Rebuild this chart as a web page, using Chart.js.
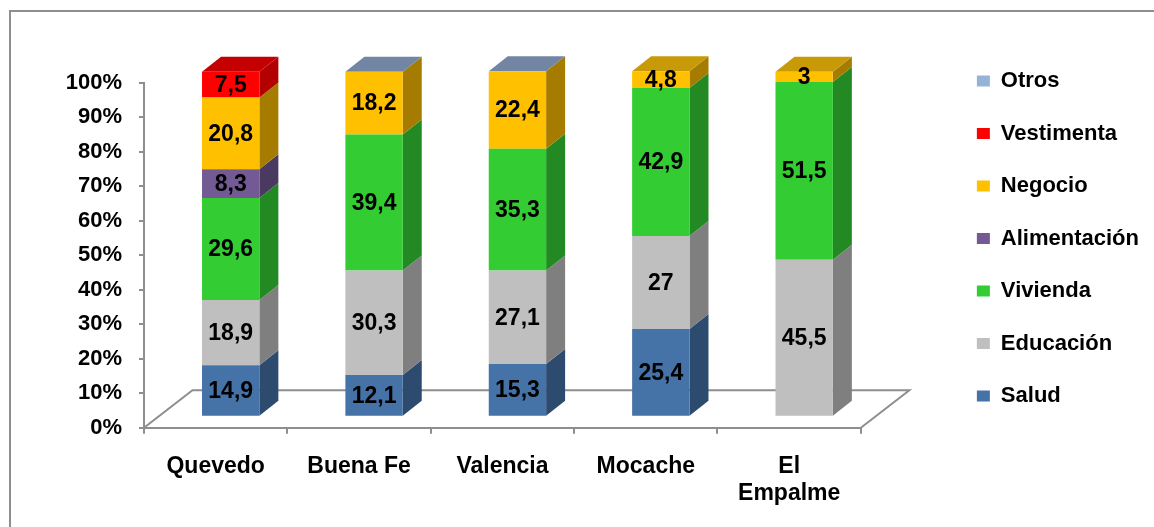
<!DOCTYPE html>
<html lang="es">
<head>
<meta charset="utf-8">
<title>Destino del crédito por cantón</title>
<script src="https://cdn.jsdelivr.net/npm/chart.js@4.4.1/dist/chart.umd.min.js"></script>
<style>
  html, body { margin: 0; padding: 0; background: #ffffff; }
  canvas { display: block; }
</style>
</head>
<body>
<canvas id="chart" width="1154" height="527"></canvas>
<script>
// Categories and series (percent of each canton)
const cantones = ['Quevedo', 'Buena Fe', 'Valencia', 'Mocache', ['El', 'Empalme']];
const salud        = [14.9, 12.1, 15.3, 25.4, null];
const educacion    = [18.9, 30.3, 27.1, 27,   45.5];
const vivienda     = [29.6, 39.4, 35.3, 42.9, 51.5];
const alimentacion = [8.3,  null, null, null, null];
const negocio      = [20.8, 18.2, 22.4, 4.8,  3];
const vestimenta   = [7.5,  null, null, null, null];
const otros        = [null, 0,    0,    null, null];
const tickValues   = [0, 10, 20, 30, 40, 50, 60, 70, 80, 90, 100];

const FONT = "'Liberation Sans', Arial, sans-serif";
const AXIS_GRAY = '#8e8e8e';

// 3D look: bars stand a little behind the front edge of the floor
const SHIFT = { dx: 15, dy: -11 };     // front face of the columns
const DEPTH = { dx: 19, dy: -15 };     // thickness of each column
const FLOOR = { dx: 48.5, dy: -37.5 }; // depth of the floor plate

const formatValue = v => String(v).replace('.', ',');

function series(label, data, front, side, top) {
  return {
    label, data,
    backgroundColor: front,
    borderWidth: 0,
    sideColor: side,
    topColor: top,
    xAxisID: 'x',
    yAxisID: 'y',
    clip: false
  };
}

const prismPlugin = {
  id: 'prism',
  beforeDraw(chart) {
    const { ctx } = chart;
    ctx.save();
    ctx.strokeStyle = AXIS_GRAY;
    ctx.lineWidth = 2;
    ctx.strokeRect(10, 11, chart.width + 20, chart.height + 20);
    ctx.restore();
  },
  beforeDatasetsDraw(chart) {
    const { ctx, chartArea: a } = chart;
    // floor outline (the front edge is the category axis line)
    ctx.save();
    ctx.strokeStyle = AXIS_GRAY;
    ctx.lineWidth = 2;
    ctx.beginPath();
    ctx.moveTo(a.left, a.bottom);
    ctx.lineTo(a.left + FLOOR.dx, a.bottom + FLOOR.dy);
    ctx.lineTo(a.right + FLOOR.dx, a.bottom + FLOOR.dy);
    ctx.lineTo(a.right, a.bottom);
    ctx.stroke();
    ctx.restore();

    // columns are drawn in the shifted plane
    ctx.save();
    ctx.translate(SHIFT.dx, SHIFT.dy);

    const datasets = chart.data.datasets;
    const n = chart.data.labels.length;
    for (let j = 0; j < n; j++) {
      let topIdx = -1;
      datasets.forEach((ds, i) => {
        const v = ds.data[j];
        if (v !== null && v !== undefined) topIdx = i;
      });
      datasets.forEach((ds, i) => {
        const v = ds.data[j];
        if (v === null || v === undefined) return;
        const bar = chart.getDatasetMeta(i).data[j];
        const { x, y, base, width } = bar.getProps(['x', 'y', 'base', 'width'], true);
        const l = x - width / 2, r = x + width / 2;
        // right side face
        ctx.fillStyle = ds.sideColor;
        ctx.beginPath();
        ctx.moveTo(r, base);
        ctx.lineTo(r, y);
        ctx.lineTo(r + DEPTH.dx, y + DEPTH.dy);
        ctx.lineTo(r + DEPTH.dx, base + DEPTH.dy);
        ctx.closePath();
        ctx.fill();
        // top face of the stack
        if (i === topIdx) {
          ctx.fillStyle = ds.topColor;
          ctx.beginPath();
          ctx.moveTo(l, y);
          ctx.lineTo(l + DEPTH.dx, y + DEPTH.dy);
          ctx.lineTo(r + DEPTH.dx, y + DEPTH.dy);
          ctx.lineTo(r, y);
          ctx.closePath();
          ctx.fill();
        }
      });
    }
  },
  afterDatasetsDraw(chart) {
    const { ctx } = chart;
    ctx.font = `bold 23px ${FONT}`;
    ctx.fillStyle = '#000000';
    ctx.textAlign = 'center';
    ctx.textBaseline = 'middle';
    chart.data.datasets.forEach((ds, i) => {
      chart.getDatasetMeta(i).data.forEach((bar, j) => {
        const v = ds.data[j];
        if (v === null || v === undefined || v === 0) return;
        const { x, y, base } = bar.getProps(['x', 'y', 'base'], true);
        ctx.fillText(formatValue(v), x, (y + base) / 2 + 1);
      });
    });
    ctx.restore(); // leave the shifted plane
  }
};

new Chart(document.getElementById('chart'), {
  type: 'bar',
  data: {
    labels: cantones,
    datasets: [
      series('Salud',        salud,        '#4572a7', '#2d4a6f', '#3a5f8c'),
      series('Educación',    educacion,    '#bfbfbf', '#7f7f7f', '#a6a6a6'),
      series('Vivienda',     vivienda,     '#33cc33', '#238a23', '#2aa82a'),
      series('Alimentación', alimentacion, '#735a94', '#4a3a5f', '#5e4a7a'),
      series('Negocio',      negocio,      '#ffc000', '#a67c00', '#c99a08'),
      series('Vestimenta',   vestimenta,   '#ff0000', '#b30000', '#c40000'),
      series('Otros',        otros,        '#95b3d7', '#6f88aa', '#7286a3')
    ]
  },
  options: {
    responsive: false,
    animation: false,
    events: [],
    devicePixelRatio: 1,
    datasets: { bar: { barPercentage: 0.4, categoryPercentage: 1 } },
    layout: { padding: { top: 39.5, right: 5, bottom: 0, left: 0 } },
    plugins: {
      tooltip: { enabled: false },
      title: { display: false },
      legend: {
        position: 'right',
        align: 'start',
        reverse: true,
        maxWidth: 300,
        labels: {
          boxWidth: 13,
          boxHeight: 11,
          padding: 30.5,
          color: '#000000',
          font: { family: FONT, size: 22, weight: 'bold' }
        }
      }
    },
    scales: {
      x: {
        stacked: true,
        position: 'bottom',
        grid: { display: true, drawOnChartArea: false, offset: true, tickLength: 6, color: AXIS_GRAY, lineWidth: 2 },
        border: { display: true, color: AXIS_GRAY, width: 2 },
        ticks: { color: '#000000', padding: 19, maxRotation: 0, autoSkip: false,
                 font: { family: FONT, size: 23, weight: 'bold' } },
        afterFit: s => { s.height = 99.3; }
      },
      y: {
        stacked: true,
        min: 0,
        max: 100,
        position: 'left',
        afterBuildTicks: s => { s.ticks = tickValues.map(v => ({ value: v })); },
        grid: { display: true, drawOnChartArea: false, tickLength: 5, color: AXIS_GRAY, lineWidth: 2 },
        border: { display: true, color: AXIS_GRAY, width: 2 },
        ticks: { color: '#000000', padding: 17, callback: v => v + '%',
                 font: { family: FONT, size: 22, weight: 'bold' } },
        afterFit: s => { s.width = 144; }
      },
      xTop: {
        type: 'category',
        position: 'top',
        display: true,
        grid: { display: false },
        border: { display: false },
        ticks: { display: false },
        afterFit: s => { s.height = 43.2; }
      },
      yRight: {
        type: 'linear',
        position: 'right',
        display: true,
        grid: { display: false },
        border: { display: false },
        ticks: { display: false },
        afterFit: s => { s.width = 85.5; }
      }
    }
  },
  plugins: [prismPlugin]
});
</script>
</body>
</html>
